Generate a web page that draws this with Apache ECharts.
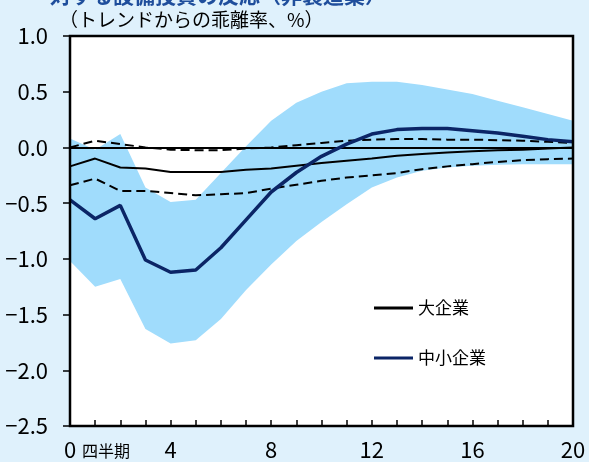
<!DOCTYPE html>
<html>
<head>
<meta charset="utf-8">
<script src="https://cdn.jsdelivr.net/npm/echarts@6/dist/echarts.min.js"></script>
<style>
  html, body { margin: 0; padding: 0; background: #dff1fc; }
  #chart { width: 589px; height: 462px; }
</style>
</head>
<body>
<div id="chart"></div>
<script>
  // quarters after the shock
  var quarters = ['0', '1', '2', '3', '4', '5', '6', '7', '8', '9', '10',
    '11', '12', '13', '14', '15', '16', '17', '18', '19', '20']
  var large = [-0.17, -0.10, -0.18, -0.19, -0.22, -0.22, -0.22, -0.20, -0.19, -0.165, -0.14,
    -0.12, -0.10, -0.075, -0.06, -0.045, -0.035, -0.025, -0.02, -0.01, 0.00]
  var small = [-0.47, -0.64, -0.52, -1.01, -1.12, -1.10, -0.90, -0.65, -0.40, -0.225, -0.08,
    0.03, 0.12, 0.16, 0.17, 0.17, 0.15, 0.13, 0.10, 0.07, 0.05]
  // 大企業 confidence band (dashed)
  var largeUpper = [0.00, 0.06, 0.03, 0.00, -0.02, -0.025, -0.025, -0.01, 0.00, 0.02, 0.04,
    0.06, 0.07, 0.075, 0.075, 0.07, 0.07, 0.065, 0.06, 0.05, 0.04]
  var largeLower = [-0.34, -0.28, -0.39, -0.39, -0.41, -0.43, -0.42, -0.41, -0.37, -0.335, -0.30,
    -0.27, -0.25, -0.23, -0.195, -0.17, -0.15, -0.13, -0.115, -0.105, -0.10]
  // 中小企業 confidence band (shaded)
  var smallUpper = [0.08, -0.02, 0.12, -0.36, -0.49, -0.47, -0.23, 0.01, 0.24, 0.40, 0.50,
    0.575, 0.59, 0.59, 0.56, 0.52, 0.48, 0.42, 0.36, 0.30, 0.24]
  var smallLower = [-1.02, -1.25, -1.18, -1.63, -1.76, -1.73, -1.54, -1.28, -1.05, -0.84, -0.67,
    -0.51, -0.36, -0.27, -0.21, -0.18, -0.165, -0.155, -0.15, -0.15, -0.15]

  var bandWidth = smallUpper.map(function (v, i) { return +(v - smallLower[i]).toFixed(3) })

  var labelFont = '"Noto Sans CJK JP", "Noto Sans", sans-serif'
  var gridBox = { left: 70, right: 16, top: 36, bottom: 36 }
  var chart = echarts.init(document.getElementById('chart'))
  var option = {
    backgroundColor: '#dff1fc',
    animation: false,
    grid: { left: gridBox.left, right: gridBox.right, top: gridBox.top, bottom: gridBox.bottom, show: true, backgroundColor: '#fff', borderColor: '#000', borderWidth: 2 },
    legend: {
      data: [{ name: '大企業', icon: 'rect' }, { name: '中小企業', icon: 'rect' }],
      orient: 'vertical',
      left: 369,
      top: 293,
      itemWidth: 39,
      itemHeight: 3,
      itemGap: 30,
      textStyle: { fontSize: 17, color: '#000', fontFamily: labelFont, lineHeight: 20 }
    },
    xAxis: {
      type: 'category',
      data: quarters,
      boundaryGap: false,
      axisLine: { onZero: false, lineStyle: { color: '#000', width: 2 } },
      axisTick: { inside: true, length: 6, interval: 0, lineStyle: { color: '#000', width: 1.5 } },
      axisLabel: { interval: 3, margin: 13, fontSize: 22, color: '#000', fontFamily: labelFont },
      splitLine: { show: false }
    },
    yAxis: {
      type: 'value',
      min: -2.5,
      max: 1.0,
      interval: 0.5,
      axisLine: { show: true, lineStyle: { color: '#000', width: 2 } },
      axisTick: { show: true, length: 7, lineStyle: { color: '#000', width: 1.5 } },
      axisLabel: {
        margin: 22,
        fontSize: 22,
        color: '#000',
        fontFamily: labelFont,
        formatter: function (v) { return v.toFixed(1).replace('-', '−') }
      },
      splitLine: { show: false }
    },
    graphic: [
      { type: 'text', left: 50, top: -15, style: { text: '対する設備投資の反応（非製造業）', fontSize: 21, fontWeight: 'bold', fill: '#1f4e9c', fontFamily: labelFont } },
      { type: 'text', left: 59, top: 10, style: { text: '（トレンドからの乖離率、%）', fontSize: 19, fill: '#000', fontFamily: labelFont } },
      { type: 'text', left: 82, top: 443, style: { text: '四半期', fontSize: 16, fill: '#000', fontFamily: labelFont } },
      // plot frame
      {
        type: 'rect',
        z: 100,
        silent: true,
        shape: { x: gridBox.left, y: gridBox.top, width: 589 - gridBox.left - gridBox.right, height: 462 - gridBox.top - gridBox.bottom },
        style: { fill: 'none', stroke: '#000', lineWidth: 2.5 }
      }
    ],
    series: [{
      name: 'bandBase',
      type: 'line',
      stack: 'band',
      stackStrategy: 'all',
      data: smallLower,
      symbol: 'none',
      lineStyle: { opacity: 0 },
      silent: true,
      z: 1
    }, {
      name: 'band',
      type: 'line',
      stack: 'band',
      stackStrategy: 'all',
      data: bandWidth,
      symbol: 'none',
      lineStyle: { opacity: 0 },
      areaStyle: { color: '#a0dcfc', opacity: 1 },
      silent: true,
      z: 1,
      markLine: {
        silent: true,
        symbol: 'none',
        label: { show: false },
        lineStyle: { color: '#000', width: 2, type: 'solid' },
        data: [{ yAxis: 0 }]
      }
    }, {
      name: 'largeUpper',
      type: 'line',
      data: largeUpper,
      symbol: 'none',
      lineStyle: { color: '#000', width: 2, type: [9, 5] },
      z: 3
    }, {
      name: 'largeLower',
      type: 'line',
      data: largeLower,
      symbol: 'none',
      lineStyle: { color: '#000', width: 2, type: [9, 5] },
      z: 3
    }, {
      name: '大企業',
      type: 'line',
      data: large,
      symbol: 'none',
      color: '#000',
      lineStyle: { color: '#000', width: 2 },
      z: 4
    }, {
      name: '中小企業',
      type: 'line',
      data: small,
      symbol: 'none',
      color: '#0b2566',
      lineStyle: { color: '#0b2566', width: 3.5 },
      z: 5
    }]
  }
  chart.setOption(option)
</script>
</body>
</html>
